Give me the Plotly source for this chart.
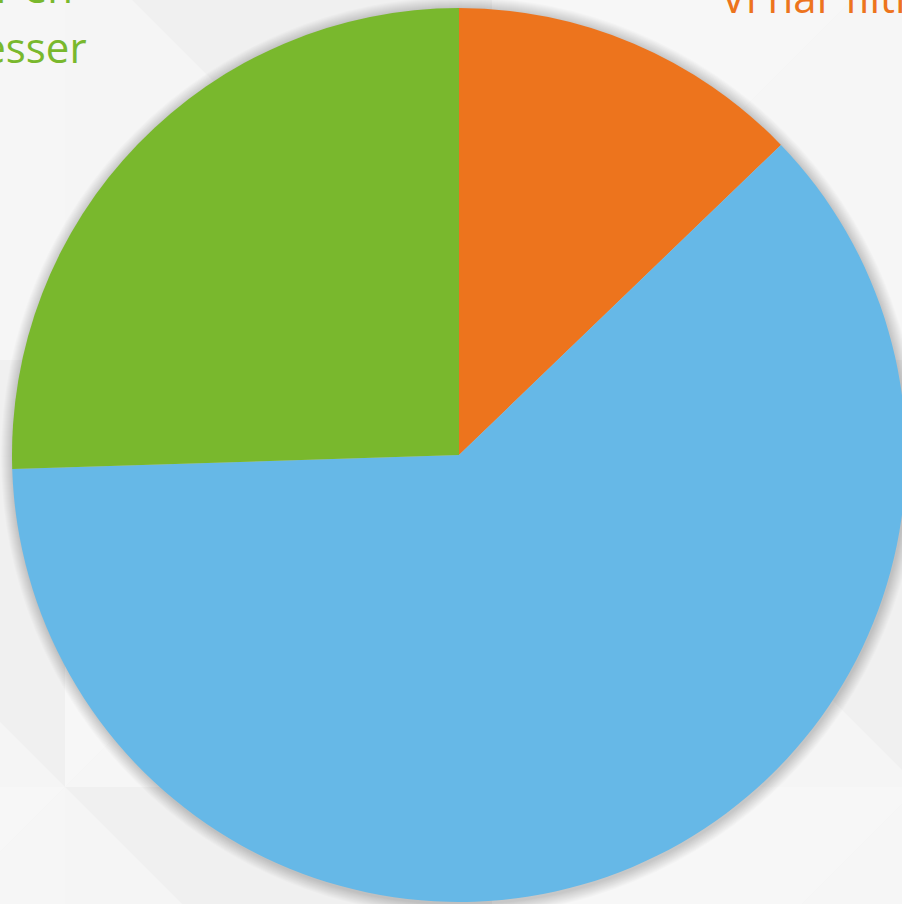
import plotly.graph_objects as go

# ---- data -------------------------------------------------------------
categories = ["Vi har filtre", "Andet", "Vi har en processer"]
shares = [12.8, 61.7, 25.5]
slice_colors = ["#ED741D", "#66B8E7", "#79B82D"]

# label lines that are visible (partly cut off by the frame)
green_label_lines = ["Vi har en", "processer"]
orange_label_lines = ["Vi har filtre"]

W, H = 906, 904


def px(x):
    return x / W


def py(y):
    return 1 - y / H


# ---- pie geometry (pixels) --------------------------------------------
left, right, top, bottom = 12, 906, 8, 902
cx, cy = (left + right) / 2, (top + bottom) / 2
R = min(right - left, bottom - top) / 2

fig = go.Figure()
fig.add_trace(go.Pie(
    labels=categories,
    values=shares,
    sort=False,
    direction="clockwise",
    rotation=0,
    marker=dict(colors=slice_colors, line=dict(width=0)),
    textinfo="none",
    hoverinfo="label+percent",
    showlegend=False,
    domain=dict(x=[px(left), px(right)], y=[py(bottom), py(top)]),
))

shapes = []

# ---- subtle faceted background ----------------------------------------
step = 427
ox, oy = 65, -67
tri_cols = {"TR": "#f0f0f0", "BL": "#f5f5f5", "TL": "#f7f7f7", "BR": "#f6f6f6"}


def tri_path(pts):
    s = "M {} {}".format(px(pts[0][0]), py(pts[0][1]))
    for p in pts[1:]:
        s += " L {} {}".format(px(p[0]), py(p[1]))
    return s + " Z"


for i in range(-1, 3):
    for j in range(-1, 3):
        x0, y0 = ox + step * i, oy + step * j
        x1, y1 = x0 + step, y0 + step
        if (i + j) % 2 == 0:
            tris = [("TR", [(x0, y0), (x1, y0), (x1, y1)]),
                    ("BL", [(x0, y0), (x0, y1), (x1, y1)])]
        else:
            tris = [("TL", [(x0, y0), (x1, y0), (x0, y1)]),
                    ("BR", [(x1, y0), (x1, y1), (x0, y1)])]
        for k, pts in tris:
            shapes.append(dict(type="path", path=tri_path(pts), xref="paper", yref="paper",
                               fillcolor=tri_cols[k], line=dict(width=0), layer="below"))

# ---- soft drop shadow around the pie ----------------------------------
for k in range(12, 0, -1):
    shapes.append(dict(type="circle", xref="paper", yref="paper",
                       x0=px(cx - R - k + 1), x1=px(cx + R + k + 1),
                       y0=py(cy + R + k + 2), y1=py(cy - R - k + 1),
                       fillcolor="rgba(0,0,0,0.016)", line=dict(width=0), layer="below"))

# ---- labels ------------------------------------------------------------
FONT = "Open Sans, sans-serif"
annotations = [
    dict(text=green_label_lines[0], x=px(75), y=py(-14), xanchor="right", yanchor="middle"),
    dict(text=green_label_lines[1], x=px(89), y=py(46), xanchor="right", yanchor="middle"),
    dict(text=orange_label_lines[0], x=px(719), y=py(-4), xanchor="left", yanchor="middle"),
]
for a, col in zip(annotations, [slice_colors[2], slice_colors[2], slice_colors[0]]):
    a.update(xref="paper", yref="paper", showarrow=False,
             font=dict(family=FONT, size=42, color=col))

fig.update_layout(
    width=W, height=H,
    margin=dict(l=0, r=0, t=0, b=0),
    paper_bgcolor="#f3f3f3",
    plot_bgcolor="#f3f3f3",
    shapes=shapes,
    annotations=annotations,
)

fig.write_html(
    "out.html",
    config={"displayModeBar": False},
    post_script=(
        "document.documentElement.style.margin='0';"
        "document.documentElement.style.overflow='hidden';"
        "document.body.style.margin='0';"
        "document.body.style.overflow='hidden';"
    ),
)
